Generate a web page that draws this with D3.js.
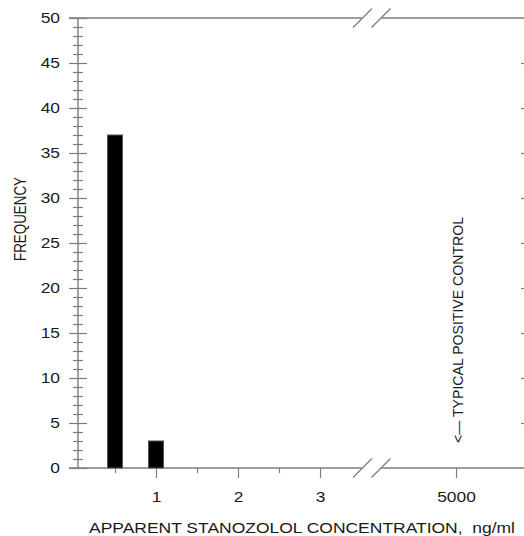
<!DOCTYPE html>
<html><head><meta charset="utf-8">
<script src="https://cdn.jsdelivr.net/npm/d3@7"></script>
<style>
html,body{margin:0;padding:0;background:#fff}
text{font-family:"Liberation Sans",Arial,Helvetica,sans-serif;fill:#1a1a1a}
</style>
</head><body>
<svg id="chart" width="524" height="536"></svg>
<script>
// Histogram of apparent stanozolol concentrations (ng/ml)
const binCenters = [0.5, 1];
const frequencies = [37, 3];

const lowMajorTicks = [1, 2, 3];
const lowMinorTicks = [0.5, 1.5, 2.5];
const highTicks = [5000];
const highTickLabels = ["5000"];

const yMajorTicks = [0, 5, 10, 15, 20, 25, 30, 35, 40, 45, 50];
const yMinorTicks = [1,2,3,4,6,7,8,9,11,12,13,14,16,17,18,19,21,22,23,24,
                     26,27,28,29,31,32,33,34,36,37,38,39,41,42,43,44,46,47,48,49];
const yRightTicks = [5, 10, 15, 20, 25, 30, 35, 40, 45];

const xTitle = "APPARENT STANOZOLOL CONCENTRATION,  ng/ml";
const yTitle = "FREQUENCY";
const controlNote = "<\u2014 TYPICAL POSITIVE CONTROL";

const svg = d3.select("#chart");
const axisColor = "#7d7d7d";
const stretch = 1.2; // horizontal widening of tick numerals

const y = d3.scaleLinear().domain([0, 50]).range([468, 18]);
const xLow = d3.scaleLinear().domain([0, 3]).range([74, 320]);
const xHigh = d3.scaleLinear().domain([4000, 6000]).range([374, 538]);

function styleAxis(g) {
  g.select(".domain").remove();
  g.selectAll(".tick line").attr("stroke", axisColor).attr("stroke-width", 1.2);
  g.selectAll(".tick text").style("font-size", "14.5px").attr("fill", "#1a1a1a");
}

// frame lines (with axis breaks)
const frame = svg.append("g").attr("stroke", axisColor).attr("stroke-width", 1.4).attr("fill", "none");
[[69, 362], [381, 524]].forEach(([a, b]) => {
  frame.append("line").attr("x1", a).attr("x2", b).attr("y1", y(0)).attr("y2", y(0));
  frame.append("line").attr("x1", a).attr("x2", b).attr("y1", y(50)).attr("y2", y(50));
});
frame.append("line").attr("x1", 78).attr("x2", 78).attr("y1", y(50)).attr("y2", y(0));

// break marks
const breaks = svg.append("g").attr("stroke", axisColor).attr("stroke-width", 1.2);
[y(0), y(50)].forEach(cy => {
  [362.5, 381].forEach(cx => {
    breaks.append("line")
      .attr("x1", cx - 9.5).attr("y1", cy + 9.5)
      .attr("x2", cx + 9.5).attr("y2", cy - 9.5);
  });
});

// y axis: minor ticks
svg.append("g").attr("transform", "translate(83,0)")
  .call(d3.axisLeft(y).tickValues(yMinorTicks).tickSize(10).tickFormat(""))
  .call(styleAxis);

// y axis: major ticks crossing the axis, with labels
const yMaj = svg.append("g").attr("transform", "translate(87,0)")
  .call(d3.axisLeft(y).tickValues(yMajorTicks).tickSize(18).tickPadding(9).tickFormat(d3.format("d")))
  .call(styleAxis);
yMaj.selectAll(".tick text")
  .attr("x", -27 / stretch)
  .attr("transform", `scale(${stretch},1)`);

// right-hand inner ticks
svg.append("g").attr("transform", "translate(525,0)")
  .call(d3.axisLeft(y).tickValues(yRightTicks).tickSize(4).tickFormat(""))
  .call(styleAxis);

// x axis, low range
svg.append("g").attr("transform", `translate(0,${y(0)})`)
  .call(d3.axisBottom(xLow).tickValues(lowMinorTicks).tickSize(5).tickFormat(""))
  .call(styleAxis);
const xMaj = svg.append("g").attr("transform", `translate(0,${y(0)})`)
  .call(d3.axisBottom(xLow).tickValues(lowMajorTicks).tickSize(10).tickPadding(14).tickFormat(d3.format("d")))
  .call(styleAxis);
xMaj.selectAll(".tick text").attr("transform", `scale(${stretch},1)`);

// x axis, high range
const xHi = svg.append("g").attr("transform", `translate(0,${y(0)})`)
  .call(d3.axisBottom(xHigh).tickValues(highTicks).tickSize(10).tickPadding(14)
        .tickFormat((d, i) => highTickLabels[i]))
  .call(styleAxis);
xHi.selectAll(".tick text").attr("transform", `scale(${stretch},1)`);

// bars
const barW = 15;
svg.append("g").selectAll("rect")
  .data(binCenters.map((c, i) => ({ c, v: frequencies[i] })))
  .join("rect")
  .attr("x", d => xLow(d.c) - barW / 2)
  .attr("width", barW)
  .attr("y", d => y(d.v))
  .attr("height", d => y(0) - y(d.v))
  .attr("fill", "#000")
  .attr("stroke", "#555")
  .attr("stroke-width", 1);

// titles
svg.append("text")
  .attr("x", 89).attr("y", 533)
  .attr("textLength", 426).attr("lengthAdjust", "spacingAndGlyphs")
  .style("font-size", "15.5px").style("white-space", "pre")
  .text(xTitle);

svg.append("text")
  .attr("transform", "translate(25.5,219) rotate(-90)")
  .attr("text-anchor", "middle")
  .attr("textLength", 84).attr("lengthAdjust", "spacingAndGlyphs")
  .style("font-size", "16.5px")
  .text(yTitle);

// annotation for the positive control
svg.append("text")
  .attr("transform", `translate(${xHigh(5000) + 7},330) rotate(-90)`)
  .attr("text-anchor", "middle")
  .attr("textLength", 226).attr("lengthAdjust", "spacingAndGlyphs")
  .style("font-size", "14.5px")
  .text(controlNote);
</script>
</body></html>
